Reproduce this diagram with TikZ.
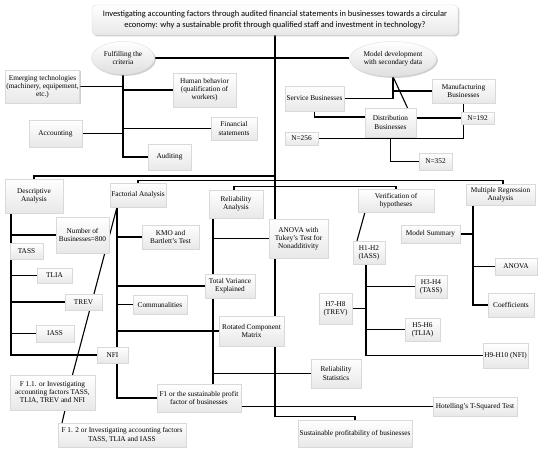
\documentclass[tikz,border=0pt]{standalone}
\usepackage{fontspec}
\setmainfont{Liberation Serif}
\newfontfamily\titlefont{Carlito}
\usetikzlibrary{shapes.geometric,shadows,backgrounds}
\tikzset{
  bx/.style={draw=gray!30, line width=0.3pt, top color=white, bottom color=gray!18,
    drop shadow={shadow xshift=1.4pt, shadow yshift=-1.4pt, opacity=0.5, fill=gray!75},
    align=center, inner sep=1pt, font=\fontsize{7.3}{8.2}\selectfont},
  el/.style={bx, ellipse, top color=white, bottom color=gray!25},
  ln/.style={line width=1.1pt, black},
  lnthick/.style={line width=1.5pt, black},
}
\begin{document}
\begin{tikzpicture}[x=1pt,y=-1pt]
\useasboundingbox (0,0) rectangle (550,453);
% title
\node[bx, rounded corners=4pt, minimum width=366pt, minimum height=30pt,
  font=\titlefont\fontsize{8.4}{11}\selectfont] (title) at (275,20)
  {Investigating accounting factors through audited financial statements in businesses towards a circular\\economy: why a sustainable profit through qualified staff and investment in technology?};
% upper left
\node[el, minimum width=63pt, minimum height=33pt] (fulfil) at (123,58) {Fulfilling the\\criteria};
\node[bx, minimum width=71pt, minimum height=33pt] (emerg) at (42.5,86.5) {Emerging technologies\\(machinery, equipement,\\etc.)};
\node[bx, minimum width=63pt, minimum height=34pt] (human) at (204.5,90) {Human behavior\\(qualification of\\workers)};
\node[bx, minimum width=53pt, minimum height=27pt] (accounting) at (55.5,133.5) {Accounting};
\node[bx, minimum width=46pt, minimum height=23pt] (finstat) at (234,128.5) {Financial\\statements};
\node[bx, minimum width=43pt, minimum height=26pt] (auditing) at (169.5,157) {Auditing};
% upper right
\node[el, minimum width=87pt, minimum height=35pt] (model) at (393,59) {Model development\\with secondary data};
\node[bx, minimum width=59pt, minimum height=25pt] (service) at (314.5,98.5) {Service Businesses};
\node[bx, minimum width=51pt, minimum height=29pt] (distrib) at (390.5,122.5) {Distribution\\Businesses};
\node[bx, minimum width=63pt, minimum height=24pt] (manuf) at (463.5,91) {Manufacturing\\Businesses};
\node[bx, minimum width=33pt, minimum height=12pt] (n192) at (477.5,118) {N=192};
\node[bx, minimum width=33pt, minimum height=13pt] (n256) at (301.5,138.5) {N=256};
\node[bx, minimum width=33pt, minimum height=17pt] (n352) at (435.5,161.5) {N=352};
% middle heads
\node[bx, minimum width=58pt, minimum height=34pt] (desc) at (34,196) {Descriptive\\Analysis};
\node[bx, minimum width=56pt, minimum height=24pt] (factorial) at (138,195) {Factorial Analysis};
\node[bx, minimum width=54pt, minimum height=28pt] (reliab) at (236,204) {Reliability\\Analysis};
\node[bx, minimum width=59pt, minimum height=39pt] (tukey) at (298.5,238.5) {ANOVA with\\Tukey's Test for\\Nonadditivity};
\node[bx, minimum width=76pt, minimum height=23pt] (verif) at (396,200.5) {Verification of\\hypotheses};
\node[bx, minimum width=69pt, minimum height=21pt] (multreg) at (500.5,194.5) {Multiple Regression\\Analysis};
% descriptive
\node[bx, minimum width=53pt, minimum height=36pt] (number) at (82.5,235) {Number of\\Businesses=800};
\node[bx, minimum width=33pt, minimum height=16pt] (tass) at (26.5,251) {TASS};
\node[bx, minimum width=35pt, minimum height=15pt] (tlia) at (54.5,275.5) {TLIA};
\node[bx, minimum width=37pt, minimum height=16pt] (trev) at (83.5,302) {TREV};
\node[bx, minimum width=38pt, minimum height=17pt] (iass) at (55,333.5) {IASS};
\node[bx, minimum width=31pt, minimum height=16pt] (nfi) at (112.5,355) {NFI};
\node[bx, minimum width=85pt, minimum height=35pt] (f11) at (52.5,392.5) {F 1.1. or Investigating\\accounting factors TASS,\\TLIA, TREV and NFI};
\node[bx, minimum width=128pt, minimum height=24pt] (f12) at (122,435) {F 1. 2 or Investigating accounting factors\\TASS, TLIA and IASS};
% factorial
\node[bx, minimum width=57pt, minimum height=24pt] (kmo) at (170.5,237) {KMO and\\Bartlett's Test};
\node[bx, minimum width=50pt, minimum height=24pt] (tve) at (230,286) {Total Variance\\Explained};
\node[bx, minimum width=54pt, minimum height=19pt] (communal) at (160,304.5) {Communalities};
\node[bx, minimum width=65pt, minimum height=30pt] (rcm) at (251.5,331) {Rotated Component\\Matrix};
\node[bx, minimum width=84pt, minimum height=28pt] (f1) at (199,398) {F1 or the sustainable profit\\factor of businesses};
\node[bx, minimum width=50pt, minimum height=29pt] (relstat) at (336,373.5) {Reliability\\Statistics};
\node[bx, minimum width=84pt, minimum height=19pt] (hotel) at (475,406.5) {Hotelling's T-Squared Test};
\node[bx, minimum width=114pt, minimum height=27pt] (sustain) at (355,433.5) {Sustainable profitability of businesses};
% hypotheses
\node[bx, minimum width=32pt, minimum height=23pt] (h12) at (369,252.5) {H1-H2\\(IASS)};
\node[bx, minimum width=32pt, minimum height=23pt] (h34) at (431,286.5) {H3-H4\\(TASS)};
\node[bx, minimum width=33pt, minimum height=31pt] (h78) at (335.5,308.5) {H7-H8\\(TREV)};
\node[bx, minimum width=35pt, minimum height=23pt] (h56) at (422.5,329.5) {H5-H6\\(TLIA)};
\node[bx, minimum width=45pt, minimum height=25pt] (h910) at (505.5,355.5) {H9-H10 (NFI)};
% regression
\node[bx, minimum width=59pt, minimum height=18pt] (modsum) at (430.5,234) {Model Summary};
\node[bx, minimum width=42pt, minimum height=17pt] (anova) at (516,266.5) {ANOVA};
\node[bx, minimum width=46pt, minimum height=24pt] (coeff) at (511,305) {Coefficients};

\begin{scope}[on background layer]
% helper coordinates
\coordinate (dS) at ([xshift=-23pt]desc.south);
\coordinate (fS) at ([xshift=-21pt]factorial.south);
\coordinate (rS) at ([xshift=-23pt]reliab.south);
\coordinate (hS) at ([xshift=-3pt]h12.south);
\coordinate (mS) at ([xshift=-27.5pt]multreg.south);
\coordinate (jA) at (title.south |- 0,176);
% main spine
\draw[ln] (title.south) -- (title.south |- tukey.north);
\draw[ln] (title.south |- tukey.south) -- (title.south |- rcm.north);
\draw[ln] (title.south |- rcm.south) |- ([yshift=3pt]sustain.north) -- (sustain.north);
% fulfilling
\draw[ln] (fulfil.east) -- (fulfil.east -| model.west);
\draw[ln] (fulfil.south) |- (auditing.west);
\draw[ln] (emerg.east) -- (emerg.east -| fulfil.south);
\draw[ln] (fulfil.south |- human.west) -- (human.west);
\draw[ln] (accounting.east) -- (accounting.east -| fulfil.south);
\draw[ln] (fulfil.south |- finstat.west) -- (finstat.west);
% model development
\draw[ln] (model.south) |- (service.east);
\draw[ln] (model.south |- manuf.west) -- (manuf.west);
\draw[ln] (model.south) -- ([xshift=17pt]distrib.north);
\draw[ln] (service.south) |- ([yshift=5.5pt]distrib.west);
\draw[ln] (n192.west -| distrib.east) -- (n192.west);
\draw[ln] (manuf.south) -- (manuf.south |- n192.north);
\draw[ln] (n256.east) -| (n192.south -| manuf.south);
\draw[ln] (distrib.south) |- (n352.west);
% level lines
\draw[lnthick] (desc.north) |- (jA);
\draw[ln] (factorial.north) -- ++(0,-2) -| ([xshift=2.5pt]multreg.north);
\draw[ln] ([xshift=-2pt]reliab.north) -- ++(0,-3) -| (verif.north);
% descriptive
\draw[ln] (dS) |- (nfi.west);
\draw[ln] (dS |- number.west) -- (number.west);
\draw[ln] (dS |- tlia.west) -- (tlia.west);
\draw[ln] (dS |- trev.west) -- (trev.west);
\draw[ln] (dS |- iass.west) -- (iass.west);
% factorial
\draw[ln] (fS) |- (f1.west);
\draw[ln] (fS |- kmo.west) -- (kmo.west);
\draw[ln] (fS |- tve.west) -- (tve.west);
\draw[ln] (fS |- communal.west) -- (communal.west);
\draw[ln] (fS |- rcm.west) -- (rcm.west);
\draw[ln] (fS) -- ([xshift=20pt]f11.north);
\draw[ln] ([xshift=12.5pt]f11.south) -- ([xshift=-60pt]f12.north);
% reliability
\draw[ln] (rS) -- (rS |- f1.north);
\draw[ln] (rS |- tukey.west) -- (tukey.west);
\draw[ln] (rS |- relstat.west) -- (relstat.west);
\draw[ln] (f1.east |- hotel.west) -- (hotel.west);
% hypotheses
\draw[ln] ([xshift=-31pt]verif.south) -- ([xshift=-12pt]h12.north);
\draw[ln] (hS) |- (h910.west);
\draw[ln] (hS |- h34.west) -- (h34.west);
\draw[ln] (h78.east) -- (h78.east -| hS);
\draw[ln] (hS |- h56.west) -- (h56.west);
% regression
\draw[ln] (mS) |- (coeff.west);
\draw[ln] (modsum.east) -- (modsum.east -| mS);
\draw[ln] (mS |- anova.west) -- (anova.west);
\end{scope}
\end{tikzpicture}
\end{document}
